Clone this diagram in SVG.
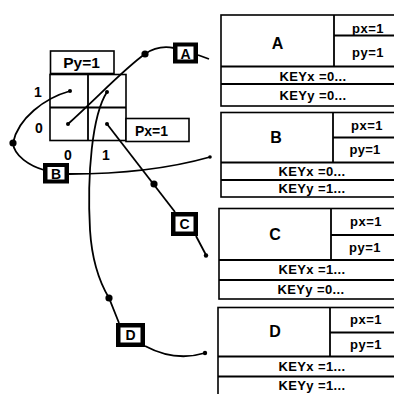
<svg xmlns="http://www.w3.org/2000/svg" width="394" height="394" viewBox="0 0 394 394">
<style>
.ln{fill:none;stroke:#000;stroke-width:1.8}
.bx{fill:#fff;stroke:#000;stroke-width:1.6}
.t{font-family:"Liberation Sans",Arial,sans-serif;font-weight:bold;fill:#000;text-anchor:middle;dominant-baseline:central}
.s{font-size:13px}
.big{font-size:16px}
.lbl{font-size:14px}
.g{font-size:15.5px}
</style>
<rect width="394" height="394" fill="#fff"/>
<g id="grid">
<rect class="bx" x="50.5" y="51" width="63.5" height="22.5"/>
<text class="t g" x="81.5" y="62">Py=1</text>
<rect class="bx" x="50" y="74.5" width="76" height="66"/>
<line class="ln" x1="88" y1="74.5" x2="88" y2="140.5"/>
<line class="ln" x1="50" y1="107.5" x2="126" y2="107.5"/>
<rect class="bx" x="126" y="118.5" width="63" height="23"/>
<text class="t lbl" x="151.5" y="130.5" font-size="14.5">Px=1</text>
<text class="t lbl" x="38" y="92">1</text>
<text class="t lbl" x="39" y="128">0</text>
<text class="t lbl" x="68" y="155">0</text>
<text class="t lbl" x="106" y="155">1</text>
</g>
<g id="connectors">
<path class="ln" d="M68,124 C100,95 125,68 145,54 C155,47 164,46 174,48"/>
<path class="ln" d="M198,55 L209,59"/>
<path class="ln" d="M70,91 C45,98 18,118 13,143 C14,156 30,166 44,170"/>
<path class="ln" d="M69,174 Q150,174 210,157"/>
<path class="ln" d="M107,124 L175,212"/>
<path class="ln" d="M196,236 L206,255"/>
<path class="ln" d="M107,92 C92,115 87,175 90,230 C92,262 100,283 109,298 L119,323"/>
<path class="ln" d="M145,346 Q175,362 205,353"/>
<circle cx="145" cy="54" r="3.6"/>
<circle cx="13" cy="143" r="3.6"/>
<circle cx="154" cy="184" r="3.6"/>
<circle cx="109" cy="298" r="3.6"/>
<circle cx="70" cy="91" r="2"/>
<circle cx="68" cy="124" r="2"/>
<circle cx="107" cy="92" r="2"/>
<circle cx="107" cy="124" r="2"/>
<circle cx="210" cy="157" r="1.8"/>
<circle cx="206" cy="255.5" r="2.2"/>
<circle cx="205" cy="353" r="2.2"/>
</g>
<g id="labelA">
<rect x="173" y="42.5" width="25" height="21"/>
<rect x="177.5" y="46.5" width="16" height="13" fill="#fff"/>
<text class="t lbl" x="185.5" y="53.5">A</text>
</g>
<g id="labelB">
<rect x="43" y="163" width="26" height="20.5"/>
<rect x="47.5" y="167" width="17" height="12.5" fill="#fff"/>
<text class="t lbl" x="56" y="173.5">B</text>
</g>
<g id="labelC">
<rect x="171" y="212" width="27" height="24"/>
<rect x="175.5" y="216.5" width="18" height="15" fill="#fff"/>
<text class="t lbl" x="184.5" y="224">C</text>
</g>
<g id="labelD">
<rect x="116" y="323" width="29" height="24"/>
<rect x="120.5" y="327.5" width="20" height="15" fill="#fff"/>
<text class="t lbl" x="130.5" y="335">D</text>
</g>
<g id="tableA">
<rect class="bx" x="221" y="15" width="184" height="91"/>
<line class="ln" x1="334" y1="15" x2="334" y2="66.5"/>
<line class="ln" x1="334" y1="35.5" x2="405" y2="35.5"/>
<line class="ln" x1="221" y1="66.5" x2="405" y2="66.5"/>
<line class="ln" x1="221" y1="84" x2="405" y2="84"/>
<text class="t big" x="277.5" y="43">A</text>
<text class="t s" x="368" y="28.5" letter-spacing="0.5">px=1</text>
<text class="t s" x="368" y="52" letter-spacing="0.5">py=1</text>
<text class="t s" x="313" y="76" letter-spacing="0.4">KEYx =0...</text>
<text class="t s" x="313" y="95.5" letter-spacing="0.4">KEYy =0...</text>
</g>
<g id="tableB">
<rect class="bx" x="221" y="112.5" width="184" height="84.5"/>
<line class="ln" x1="333" y1="112.5" x2="333" y2="162.5"/>
<line class="ln" x1="333" y1="137.5" x2="405" y2="137.5"/>
<line class="ln" x1="221" y1="162.5" x2="405" y2="162.5"/>
<line class="ln" x1="221" y1="180" x2="405" y2="180"/>
<text class="t big" x="276" y="137">B</text>
<text class="t s" x="367" y="125.5" letter-spacing="0.5">px=1</text>
<text class="t s" x="365" y="149.5" letter-spacing="0.3">py=1</text>
<text class="t s" x="312" y="171" letter-spacing="0.4">KEYx =0...</text>
<text class="t s" x="312" y="188.5" letter-spacing="0.4">KEYy =1...</text>
</g>
<g id="tableC">
<rect class="bx" x="219" y="208.5" width="186" height="90.5"/>
<line class="ln" x1="331" y1="208.5" x2="331" y2="260"/>
<line class="ln" x1="331" y1="235" x2="405" y2="235"/>
<line class="ln" x1="219" y1="260" x2="405" y2="260"/>
<line class="ln" x1="219" y1="280" x2="405" y2="280"/>
<text class="t big" x="275" y="234">C</text>
<text class="t s" x="366" y="221" letter-spacing="0.5">px=1</text>
<text class="t s" x="365" y="247.5" letter-spacing="0.5">py=1</text>
<text class="t s" x="312" y="269.5" letter-spacing="0.4">KEYx =1...</text>
<text class="t s" x="311" y="289.5" letter-spacing="0.4">KEYy =0...</text>
</g>
<g id="tableD">
<rect class="bx" x="218" y="307.5" width="187" height="90"/>
<line class="ln" x1="330" y1="307.5" x2="330" y2="356.5"/>
<line class="ln" x1="330" y1="332.5" x2="405" y2="332.5"/>
<line class="ln" x1="218" y1="356.5" x2="405" y2="356.5"/>
<line class="ln" x1="218" y1="376.5" x2="405" y2="376.5"/>
<text class="t big" x="275" y="331">D</text>
<text class="t s" x="366" y="319.5" letter-spacing="0.5">px=1</text>
<text class="t s" x="366" y="344" letter-spacing="0.5">py=1</text>
<text class="t s" x="312" y="366" letter-spacing="0.4">KEYx =1...</text>
<text class="t s" x="312" y="385.5" letter-spacing="0.4">KEYy =1...</text>
</g>
</svg>
